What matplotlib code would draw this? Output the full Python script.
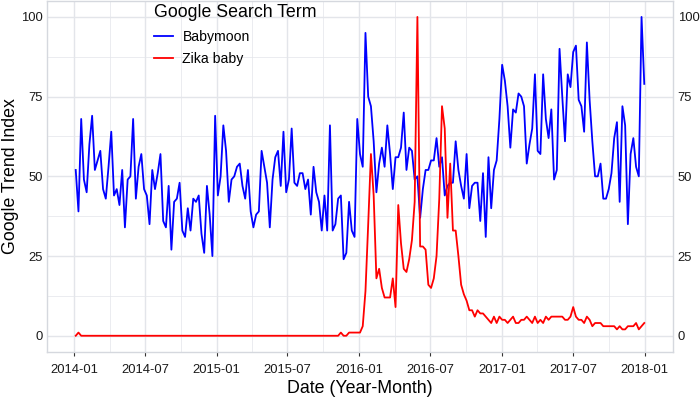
import matplotlib
matplotlib.use("Agg")
import matplotlib.pyplot as plt
import pandas as pd

plt.rcParams['font.family'] = ['Liberation Sans', 'DejaVu Sans']

start_date = "2014-01-05"
n_weeks = 209

babymoon = [52,39,68,49,45,60,69,52,55,58, 46,43,53,64,44,46,41,52,34,49,
            50,68,43,53,57,46,44,35,52,46, 51,57,36,34,47,27,42,43,48,33,
            31,40,33,43,42,44,32,26,
            47,38,25,
            69,44,50,66,58,42,49,50,53,54, 47,43,52,39,34,38,39,58,53,48,
            34,49,56,58,47,64,45,49,65,48, 47,51,51,46,49,38,53,45,42,33,
            44,33,66,33,35,43,44,24,26,42, 33,31,68,57,53,95,75,
            72,61,45,54,59,53,66,57,46,56, 56,59,70,52,59,58,49,50,37,46,
            52,52,55,55,62,53,56,44,47,48, 48,61,52,47,43,57,40,47,48,48,
            36,51,31,56,40,52,55,68,85,80, 72,59,71,70,76,75,72,54,60,
            65,82,58,57,82,68,62,71,49,52, 90,75,61,82,78,89,91,74,72,64,
            92,74,61,50,50,54,43,43,46,51, 62,67,42,72,66,35,57,62,53,50,
            100,79]

zika_baby = ([0,1] + [0]*95 + [1,0,0,1,1,1,1,1,3] +
             [14,35,57,44,18,21,15,12,12,12, 18,9,41,29,21,20,24,30,42,100,
              28,28,27,16,15,18,25,43,72,65, 37,54,33,33,25,16,13,11,8,8,
              6,8,7,7,6,5,4,6,4,6, 5,5,4,5,6,4,4,5,5,6, 5] +
             [4,6,4,5,4,6,5,6,6,6, 6,6,5,5,6,9,6,5,5,4,
              6,5,3,4,4,4,3,3,3,3, 3,2,3,2,2,3,3,3,4,2, 3,4])

dates = pd.date_range(start_date, periods=n_weeks, freq="7D")

y_ticks = [0, 25, 50, 75, 100]
x_tick_labels = ["2014-01","2014-07","2015-01","2015-07","2016-01",
                 "2016-07","2017-01","2017-07","2018-01"]

fig = plt.figure(figsize=(7.0, 3.99), dpi=100)
ax = fig.add_axes([47.3/700, 1-351.7/399, (672.7-47.3)/700, (351.7-1)/399])

grid_c = "#e3e5ea"
ax.plot(dates, babymoon, color="#0000ff", lw=1.3, label="Babymoon", zorder=3)
ax.plot(dates, zika_baby, color="#ff0000", lw=1.3, label="Zika baby", zorder=4)

span = dates[-1] - dates[0]
ax.set_xlim(dates[0] - span*0.05, dates[-1] + span*0.05)
ax.set_ylim(-5, 105)

xt = pd.to_datetime([s + "-01" for s in x_tick_labels])
ax.set_xticks(xt)
ax.set_xticklabels(x_tick_labels)
minor = [xt[i] + (xt[i+1]-xt[i])/2 for i in range(len(xt)-1)]
ax.set_xticks(minor, minor=True)
ax.set_yticks(y_ticks)
ax.set_yticks([12.5, 37.5, 62.5, 87.5], minor=True)

ax.grid(True, which="major", color=grid_c, lw=1.0, zorder=0)
ax.grid(True, which="minor", color=grid_c, lw=0.5, zorder=0)
for s in ax.spines.values():
    s.set_color("#d5d8de")
    s.set_linewidth(1.0)

ax.tick_params(axis="x", which="major", length=3, width=0.8, color="#333333",
               labelsize=9.4, labelcolor="#1a1a1a", pad=6)
ax.tick_params(axis="y", which="major", length=0, labelsize=9.4,
               labelcolor="#1a1a1a", pad=3.5, labelright=True, right=False)
ax.tick_params(which="minor", length=0)

ax.set_xlabel("Date (Year-Month)", fontsize=12.8, color="black", labelpad=3)
ax.set_ylabel("Google Trend Index", fontsize=12.8, color="black", labelpad=1)

leg = ax.legend(title="Google Search Term", loc="upper left",
                bbox_to_anchor=(146/700, 1.0 + 4/399), bbox_transform=fig.transFigure,
                frameon=False, fontsize=10.1, title_fontsize=12.8,
                handlelength=1.3, handletextpad=0.7, labelspacing=0.6,
                borderpad=0.1, alignment="left")

fig.savefig("out.png", dpi=100)
